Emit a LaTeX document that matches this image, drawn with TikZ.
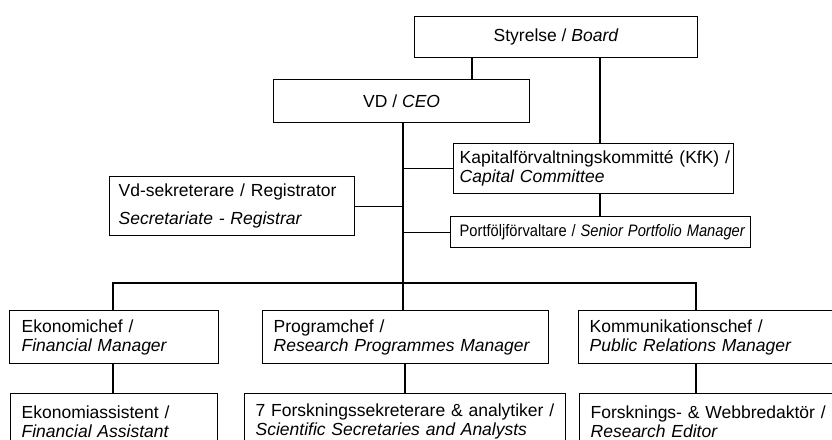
\documentclass[tikz,border=0pt]{standalone}
\usepackage{graphicx}
\usepackage{fontspec}
\setmainfont{Liberation Sans}
\begin{document}
\begin{tikzpicture}[x=1pt,y=-1pt,
  box/.style={draw, line width=1.3pt, rectangle, anchor=north west, inner sep=0pt,
    align=left, font=\fontsize{17.5}{19}\selectfont},
  link/.style={line width=1.2pt}]
\useasboundingbox (0,0) rectangle (832,439);
\clip (0,0) rectangle (832,439);

% boxes
\node[box, align=center, minimum width=283, minimum height=41] (board) at (414,16) {Styrelse / \textit{Board}};
\node[box, align=center, minimum width=256, minimum height=43] (ceo) at (273,79) {VD / \textit{CEO}};
\node[box, minimum width=280, minimum height=50, text width=268] (kap) at (453,143)
  {\mbox{Kapitalförvaltningskommitté (KfK) /}\\\textit{Capital Committee}};
\node[box, minimum width=300, minimum height=31, text width=282] (port) at (450,216)
  {\scalebox{0.84}[0.95]{Portföljförvaltare / \textit{Senior Portfolio Manager}}};
\node[box, minimum width=245, minimum height=59, text width=227, font=\fontsize{17.5}{28}\selectfont] (vd) at (109,176)
  {Vd-sekreterare / Registrator\\\textit{Secretariate - Registrar}};
\node[box, minimum width=209, minimum height=53, text width=185] (eko) at (9,310)
  {Ekonomichef /\\\textit{Financial Manager}};
\node[box, minimum width=286, minimum height=53, text width=264] (prog) at (262,310)
  {Programchef /\\\textit{Research Programmes Manager}};
\node[box, minimum width=280, minimum height=53, text width=258] (komm) at (578,310)
  {Kommunikationschef /\\\textit{Public Relations Manager}};
\node[box, minimum width=207, minimum height=56, text width=185] (ekoass) at (10,393)
  {Ekonomiassistent /\\\textit{Financial Assistant}};
\node[box, minimum width=321, minimum height=56, text width=299] (forsk) at (244,393)
  {\mbox{7 Forskningssekreterare \& analytiker /}\\\textit{Scientific Secretaries and Analysts}};
\node[box, minimum width=280, minimum height=56, text width=258] (web) at (579,393)
  {Forsknings- \& Webbredaktör /\\\textit{Research Editor}};

% helper x positions
\coordinate (bx1) at (472,0);
\coordinate (bx2) at (600,0);
\coordinate (tx) at (403,0);
\coordinate (lx) at (113,0);
\coordinate (rx) at (696,0);
\coordinate (px) at (405,0);
\coordinate (busL) at (113,283);
\coordinate (busR) at (696,283);

% connectors
\draw[link] (board.south -| bx1) -- (ceo.north -| bx1);
\draw[link] (board.south -| bx2) -- (kap.north -| bx2);
\draw[link] (kap.south -| bx2) -- (port.north -| bx2);
\draw[link] (ceo.south -| tx) -- (prog.north -| tx);
\draw[link] (kap.west) -- (kap.west -| tx);
\draw[link] (port.west) -- (port.west -| tx);
\draw[link] (vd.east) -- (vd.east -| tx);
\draw[link] (eko.north -| lx) -- (busL) -- (busR) -- (komm.north -| rx);
\draw[link] (eko.south -| lx) -- (ekoass.north -| lx);
\draw[link] (prog.south -| px) -- (forsk.north -| px);
\draw[link] (komm.south -| rx) -- (web.north -| rx);
\end{tikzpicture}
\end{document}
